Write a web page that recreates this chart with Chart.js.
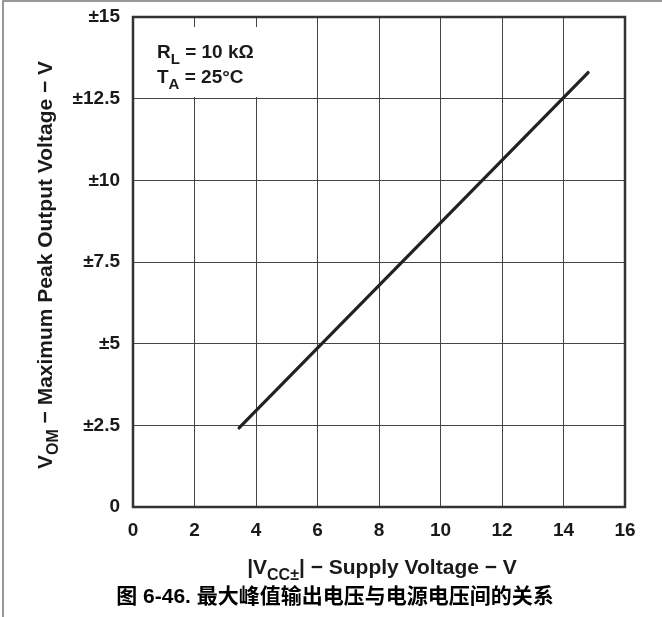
<!DOCTYPE html>
<html>
<head>
<meta charset="utf-8">
<script src="https://cdn.jsdelivr.net/npm/chart.js@4/dist/chart.umd.min.js"></script>
<style>
  html, body { margin: 0; padding: 0; background: #fff; }
  #wrap { width: 662px; height: 617px; position: relative; }
</style>
</head>
<body>
<div id="wrap"><canvas id="chart"></canvas></div>
<script>
// Supply voltage |Vcc±| (V) and max peak output voltage Vom (±V)
const supplyVoltage = [3.45, 14.8];
const peakOutput = [2.42, 13.3];

const xTicks = [0, 2, 4, 6, 8, 10, 12, 14, 16];
const yTicks = [0, 2.5, 5, 7.5, 10, 12.5, 15];

const FONT = '"Liberation Sans", Arial, "Noto Sans CJK SC", sans-serif';

// draw a string made of pieces, some of them subscripts
function drawRich(ctx, parts, x, y, size, align) {
    const big = 'bold ' + size + 'px ' + FONT;
    const small = 'bold ' + Math.round(size * 0.78) + 'px ' + FONT;
    let total = 0;
    parts.forEach(p => {
        ctx.font = p.sub ? small : big;
        total += ctx.measureText(p.t).width;
    });
    let cx = align === 'center' ? x - total / 2 : x;
    ctx.textAlign = 'left';
    ctx.textBaseline = 'alphabetic';
    parts.forEach(p => {
        ctx.font = p.sub ? small : big;
        ctx.fillText(p.t, cx, p.sub ? y + size * 0.3 : y);
        cx += ctx.measureText(p.t).width;
    });
}

const decorations = {
    id: 'decorations',
    beforeDatasetsDraw(chart) {
        const ctx = chart.ctx;
        ctx.save();
        // white box behind the conditions text
        ctx.fillStyle = '#fff';
        ctx.fillRect(150, 27, 118, 70);
        ctx.restore();
    },
    afterDraw(chart) {
        const ctx = chart.ctx;
        const a = chart.chartArea;
        ctx.save();
        // outer figure frame
        ctx.strokeStyle = '#777';
        ctx.lineWidth = 1.5;
        ctx.beginPath();
        ctx.moveTo(3, 617);
        ctx.lineTo(3, 1);
        ctx.lineTo(662, 1);
        ctx.stroke();

        // plot frame
        ctx.strokeStyle = '#333';
        ctx.lineWidth = 2.5;
        ctx.strokeRect(a.left, a.top, a.right - a.left, a.bottom - a.top);

        ctx.fillStyle = '#1a1a1a';
        // conditions
        drawRich(ctx, [{t: 'R'}, {t: 'L', sub: true}, {t: ' = 10 k\u03A9'}], 157, 58, 19, 'left');
        drawRich(ctx, [{t: 'T'}, {t: 'A', sub: true}, {t: ' = 25\u00B0C'}], 157, 83, 19, 'left');

        // x axis title
        const midX = (a.left + a.right) / 2;
        drawRich(ctx, [{t: '|V'}, {t: 'CC\u00B1', sub: true}, {t: '| \u2212 Supply Voltage \u2212 V'}], midX + 3, 574, 21, 'center');

        // y axis title (rotated)
        ctx.save();
        ctx.translate(52, (a.top + a.bottom) / 2 + 3);
        ctx.rotate(-Math.PI / 2);
        drawRich(ctx, [{t: 'V'}, {t: 'OM', sub: true}, {t: ' \u2212 Maximum Peak Output Voltage \u2212 V'}], 0, 0, 21, 'center');
        ctx.restore();

        // caption
        ctx.font = 'bold 21px ' + FONT;
        ctx.textAlign = 'center';
        ctx.textBaseline = 'alphabetic';
        ctx.fillStyle = '#000';
        ctx.fillText('图 6-46. 最大峰值输出电压与电源电压间的关系', 335, 603);
        ctx.restore();
    }
};

new Chart(document.getElementById('chart'), {
    type: 'scatter',
    data: {
        datasets: [{
            data: supplyVoltage.map((v, i) => ({ x: v, y: peakOutput[i] })),
            showLine: true,
            borderColor: '#222',
            borderWidth: 3.2,
            pointRadius: 0,
            borderCapStyle: 'round'
        }]
    },
    options: {
        responsive: true,
        maintainAspectRatio: false,
        animation: false,
        layout: { padding: { left: 0, top: 17, right: 37, bottom: 0 } },
        plugins: { legend: { display: false }, tooltip: { enabled: false } },
        scales: {
            x: {
                type: 'linear',
                min: 0,
                max: 16,
                afterBuildTicks: s => { s.ticks = xTicks.map(v => ({ value: v })); },
                afterFit: s => { s.height = 110; s.paddingLeft = 0; s.paddingRight = 0; },
                grid: { color: '#444', lineWidth: 1, drawTicks: false },
                border: { display: false },
                ticks: {
                    padding: 12,
                    color: '#1a1a1a',
                    font: { family: FONT, size: 19, weight: 'bold' }
                }
            },
            y: {
                type: 'linear',
                min: 0,
                max: 15,
                afterBuildTicks: s => { s.ticks = yTicks.map(v => ({ value: v })); },
                afterFit: s => { s.width = 133; s.paddingTop = 0; s.paddingBottom = 0; },
                grid: { color: '#444', lineWidth: 1, drawTicks: false },
                border: { display: false },
                ticks: {
                    padding: 13,
                    color: '#1a1a1a',
                    font: { family: FONT, size: 19, weight: 'bold' },
                    callback: v => v === 0 ? '0' : '\u00B1' + v
                }
            }
        }
    },
    plugins: [decorations]
});
</script>
</body>
</html>
